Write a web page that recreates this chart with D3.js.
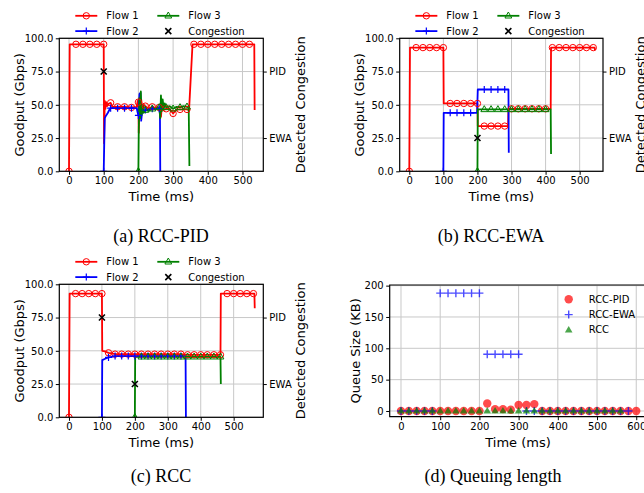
<!DOCTYPE html>
<html>
<head>
<meta charset="utf-8">
<script src="https://cdn.jsdelivr.net/npm/d3@7"></script>
<style>
body { margin: 0; background: #fff; }
svg text { font-family: "DejaVu Sans", sans-serif; fill: #000; }
.caption { font-family: "Liberation Serif", "Times New Roman", serif; font-size: 18px; }
</style>
</head>
<body>
<svg id="chart" width="644" height="493"></svg>
<script>
// goodput series, [time ms, Gbps]
var pidFlow1 = [[0,0],[2,95.5],[20,95.5],[40,95.5],[60,95.5],[80,95.5],[100,95.5],[101,21],[103,53],[105,47],[107,52],[110,49],[115,51],[120,51.5],[125,48.5],[140,48.5],[160,48.5],[180,48],[195,48.5],[198,53],[200,52],[201,29],[203,55],[205,44],[208,54],[212,46],[216,50],[220,49],[230,47],[240,48.5],[250,47.5],[260,48],[263,45],[265,41],[268,50],[272,46],[280,47],[290,47],[300,43.5],[310,46.5],[320,46.5],[340,46.5],[346,46],[356,95.5],[360,95.5],[380,95.5],[400,95.5],[420,95.5],[440,95.5],[460,95.5],[480,95.5],[500,95.5],[520,95.5],[534,95.5],[535,46]];
var pidFlow2 = [[100,0],[103,40],[107,42],[112,44],[118,47],[120,47.5],[125,47.5],[140,47.5],[160,47.5],[180,47.5],[195,47.5],[198,44],[200,42],[203,58],[206,59],[208,38],[211,45],[215,46],[220,46],[240,47],[260,47],[262,47],[263,0]];
var pidFlow3 = [[200,0],[201,30],[203,55],[205,40],[207,60],[209,42],[212,50],[215,44],[220,46],[230,45.5],[240,47],[250,47],[260,48],[263,40],[265,57],[267,45],[270,54],[273,47],[276,51],[280,48],[290,49],[300,47],[310,48.5],[320,48],[330,49],[340,48.5],[345,48],[347,4]];

var ewaFlow1 = [[0,0],[2,93],[20,93],[40,93],[60,93],[80,93],[100,93],[101,51],[120,51],[140,51],[160,51],[180,51],[200,51],[201,34],[220,34],[240,34],[260,34],[280,34],[290,34],[291,47],[300,47],[320,47],[340,47],[360,47],[380,47],[400,47],[415,47],[416,93],[420,93],[440,93],[460,93],[480,93],[500,93],[520,93],[540,93],[544,93],[545,91]];
var ewaFlow2 = [[100,0],[101,44],[120,44],[140,44],[160,44],[180,44],[199,44],[201,61.5],[220,61.5],[240,61.5],[260,61.5],[280,61.5],[291,61.5],[292,14]];
var ewaFlow3 = [[200,0],[201,46.5],[220,46.5],[240,46.5],[260,46.5],[280,46.5],[300,46.5],[320,46.5],[340,46.5],[360,46.5],[380,46.5],[400,46.5],[415,46.5],[416,13]];

var rccFlow1 = [[0,0],[2,93],[20,93],[40,93],[60,93],[80,93],[100,93],[101,50],[110,49.5],[120,48.5],[130,48],[140,47.5],[160,47.5],[180,47.5],[200,47.5],[220,47.5],[240,47.5],[260,47.5],[280,47.5],[300,47.5],[320,47.5],[340,47.5],[360,47],[380,47],[400,47],[420,47],[440,47],[460,47],[461,93],[480,93],[500,93],[520,93],[540,93],[560,93],[563,93],[564,82]];
var rccFlow2 = [[100,0],[101,43],[110,44],[120,45],[130,45.5],[140,46],[160,46],[180,46],[200,46],[220,46],[240,46],[260,46],[280,46],[300,46],[320,46],[340,46],[354,46],[355,0]];
var rccFlow3 = [[200,0],[201,45.5],[220,45.5],[240,45.5],[260,45.5],[280,45.5],[300,45.5],[320,45.5],[340,45.5],[360,45.5],[380,45.5],[400,45.5],[420,45.5],[440,45.5],[460,45.5],[461,25]];

// detected congestion, [time ms, level]
var pidCongestion = [[100,75]];
var ewaCongestion = [[200,25]];
var rccCongestion = [[100,75],[200,25]];

var goodputTicks = [0,25,50,75,100];
var timeTicks = [0,100,200,300,400,500];
var congestionTicks = [[75,"PID"],[25,"EWA"]];
var flowNames = ["Flow 1","Flow 2","Flow 3","Congestion"];

// queue size (KB) sampled every 20 ms
var queueTime = [0,20,40,60,80,100,120,140,160,180,200,220,240,260,280,300,320,340,360,380,400,420,440,460,480,500,520,540,560,580,600];
var queuePid = [0,0,0,0,0,0,0,0,0,0,0,12,3,3,2,9.6,9.6,11,0,0,0,0,0,0,0,0,0,0,0,0,0];
var queueEwa = [0,0,0,0,0,188,188,188,188,188,188,90.5,90.5,90.5,90.5,90.5,0,0,0,0,0,0,0,0,0,0,0,0,0,0];
var queueRcc = [0,0,0,0,0,0,0,0,0,0,0,0,0,0,0,0,0,0,0,0,0,0,0,0,0,0,0,0,0];
var queueTicksY = [0,50,100,150,200];
var queueTicksX = [0,100,200,300,400,500,600];

var svg = d3.select("#chart");
var colors = ["#ff0000", "#0000ff", "#008000"];
var markers = ["circle", "plus", "triangle"];
var clipId = 0;

function draw_marker(g, kind, x, y, color) {
	if (kind == "circle") {
		g.append("circle").attr("cx", x).attr("cy", y).attr("r", 3.2)
			.style("fill", "none").style("stroke", color).style("stroke-width", 1);
	} else if (kind == "plus") {
		g.append("path").attr("d", "M"+(x-3.5)+","+y+"h7M"+x+","+(y-3.5)+"v7")
			.style("stroke", color).style("stroke-width", 1.2);
	} else if (kind == "triangle") {
		g.append("path").attr("d", "M"+x+","+(y-3.8)+"L"+(x+3.4)+","+(y+2.2)+"L"+(x-3.4)+","+(y+2.2)+"Z")
			.style("fill", "none").style("stroke", color).style("stroke-width", 1);
	} else if (kind == "x") {
		g.append("path").attr("d", "M"+(x-3)+","+(y-3)+"l6,6M"+(x+3)+","+(y-3)+"l-6,6")
			.style("stroke", "#000").style("stroke-width", 1.6);
	}
}

function frame(g, left, top, right, bottom) {
	g.append("rect").attr("x", left).attr("y", top).attr("width", right-left).attr("height", bottom-top)
		.style("fill", "none").style("stroke", "#000").style("stroke-width", 1.2);
}

function draw_goodput(p) {
	var g = svg.append("g");
	var x = d3.scaleLinear().domain(p.xdom).range([p.left, p.right]);
	var y = d3.scaleLinear().domain([0, 100]).range([p.bottom, p.top]);

	// grid
	g.selectAll(".gx").data(timeTicks).enter().append("line")
		.attr("x1", d => x(d)).attr("x2", d => x(d)).attr("y1", p.top).attr("y2", p.bottom)
		.style("stroke", "#c8c8c8").style("stroke-width", 1);
	g.selectAll(".gy").data(goodputTicks).enter().append("line")
		.attr("x1", p.left).attr("x2", p.right).attr("y1", d => y(d)).attr("y2", d => y(d))
		.style("stroke", "#c8c8c8").style("stroke-width", 1);

	// axes
	var ax = g.append("g").attr("transform", "translate(0,"+p.bottom+")")
		.call(d3.axisBottom(x).tickValues(timeTicks).tickSize(3.5).tickPadding(2.5));
	var ay = g.append("g").attr("transform", "translate("+p.left+",0)")
		.call(d3.axisLeft(y).tickValues(goodputTicks).tickFormat(d3.format(".1f")).tickSize(3.5).tickPadding(2.5));
	var ar = g.append("g").attr("transform", "translate("+p.right+",0)")
		.call(d3.axisRight(y).tickValues(congestionTicks.map(d => d[0]))
			.tickFormat(d => congestionTicks.find(c => c[0] == d)[1]).tickSize(3.5).tickPadding(2.5));
	[ax, ay, ar].forEach(function(a) {
		a.select(".domain").remove();
		a.selectAll("text").style("font-size", "10px").style("font-family", "DejaVu Sans");
		a.selectAll("line").style("stroke-width", 1);
	});

	// series
	clipId++;
	g.append("clipPath").attr("id", "clip"+clipId).append("rect")
		.attr("x", p.left).attr("y", p.top).attr("width", p.right-p.left).attr("height", p.bottom-p.top);
	var plot = g.append("g").attr("clip-path", "url(#clip"+clipId+")");
	var line = d3.line().x(d => x(d[0])).y(d => y(d[1]));
	p.flows.forEach(function(f, i) {
		plot.append("path").datum(f).attr("d", line)
			.style("fill", "none").style("stroke", colors[i]).style("stroke-width", 1.8).style("stroke-linejoin", "round");
	});
	p.flows.forEach(function(f, i) {
		f.filter(d => d[0] % 20 == 0).forEach(function(d) {
			draw_marker(plot, markers[i], x(d[0]), y(d[1]), colors[i]);
		});
	});
	p.congestion.forEach(function(d) {
		draw_marker(g, "x", x(d[0]), y(d[1]));
	});

	frame(g, p.left, p.top, p.right, p.bottom);

	// labels
	g.append("text").attr("transform", "translate("+(p.left-40)+","+((p.top+p.bottom)/2)+") rotate(-90)")
		.attr("text-anchor", "middle").attr("dy", "0.35em").style("font-size", "13px").text("Goodput (Gbps)");
	g.append("text").attr("transform", "translate("+(p.right+37)+","+((p.top+p.bottom)/2)+") rotate(-90)")
		.attr("text-anchor", "middle").attr("dy", "0.35em").style("font-size", "13px").text("Detected Congestion");
	g.append("text").attr("x", (p.left+p.right)/2).attr("y", p.bottom+30)
		.attr("text-anchor", "middle").style("font-size", "13px").text("Time (ms)");

	// legend
	var lx = (p.left+p.right)/2 - 86;
	var cols = [[0,0],[0,1],[1,0],[1,1]]; // Flow1, Flow2 in column 0; Flow3, Congestion in column 1
	flowNames.forEach(function(name, i) {
		var c = cols[i], hx = lx + c[0]*82, hy = p.top - 22.5 + c[1]*15.3;
		if (i < 3) {
			g.append("line").attr("x1", hx).attr("x2", hx+22).attr("y1", hy).attr("y2", hy)
				.style("stroke", colors[i]).style("stroke-width", 1.8);
			draw_marker(g, markers[i], hx+11, hy, colors[i]);
		} else {
			draw_marker(g, "x", hx+11, hy);
		}
		g.append("text").attr("x", hx+31).attr("y", hy).attr("dy", "0.35em").style("font-size", "10px").text(name);
	});

	svg.append("text").attr("class", "caption").attr("x", p.caption_x).attr("y", p.caption_y)
		.attr("text-anchor", "middle").text(p.caption);
}

draw_goodput({left: 59.3, right: 263.3, top: 38.3, bottom: 171.3, xdom: [-28, 560],
	flows: [pidFlow1, pidFlow2, pidFlow3], congestion: pidCongestion, caption: "(a) RCC-PID", caption_x: 161, caption_y: 242});
draw_goodput({left: 399.7, right: 603, top: 38.3, bottom: 171.3, xdom: [-28.2, 568.5],
	flows: [ewaFlow1, ewaFlow2, ewaFlow3], congestion: ewaCongestion, caption: "(b) RCC-EWA", caption_x: 491, caption_y: 242});
draw_goodput({left: 59.3, right: 263.3, top: 284.3, bottom: 417.3, xdom: [-29.4, 590],
	flows: [rccFlow1, rccFlow2, rccFlow3], congestion: rccCongestion, caption: "(c) RCC", caption_x: 161, caption_y: 482});

// queue length panel
(function() {
	var p = {left: 389.7, right: 648, top: 285, bottom: 416.7};
	var g = svg.append("g");
	var x = d3.scaleLinear().domain([-28.8, 630]).range([p.left, p.right]);
	var y = d3.scaleLinear().domain([-9.1, 201]).range([p.bottom, p.top]);

	g.selectAll(".gx").data(queueTicksX).enter().append("line")
		.attr("x1", d => x(d)).attr("x2", d => x(d)).attr("y1", p.top).attr("y2", p.bottom)
		.style("stroke", "#c8c8c8").style("stroke-width", 1);
	g.selectAll(".gy").data(queueTicksY).enter().append("line")
		.attr("x1", p.left).attr("x2", p.right).attr("y1", d => y(d)).attr("y2", d => y(d))
		.style("stroke", "#c8c8c8").style("stroke-width", 1);

	var ax = g.append("g").attr("transform", "translate(0,"+p.bottom+")")
		.call(d3.axisBottom(x).tickValues(queueTicksX).tickSize(3.5).tickPadding(2.5));
	var ay = g.append("g").attr("transform", "translate("+p.left+",0)")
		.call(d3.axisLeft(y).tickValues(queueTicksY).tickSize(3.5).tickPadding(2.5));
	[ax, ay].forEach(function(a) {
		a.select(".domain").remove();
		a.selectAll("text").style("font-size", "10px").style("font-family", "DejaVu Sans");
		a.selectAll("line").style("stroke-width", 1);
	});

	var pts = g.append("g");
	queuePid.forEach(function(v, i) {
		pts.append("circle").attr("cx", x(queueTime[i])).attr("cy", y(v)).attr("r", 4.2)
			.style("fill", "#ff0000").style("fill-opacity", 0.7);
	});
	queueEwa.forEach(function(v, i) {
		var cx = x(queueTime[i]), cy = y(v);
		pts.append("path").attr("d", "M"+(cx-4)+","+cy+"h8M"+cx+","+(cy-4)+"v8")
			.style("stroke", "#0000ff").style("stroke-opacity", 0.7).style("stroke-width", 1.4);
	});
	queueRcc.forEach(function(v, i) {
		var cx = x(queueTime[i]), cy = y(v);
		pts.append("path").attr("d", "M"+cx+","+(cy-4)+"L"+(cx+3.8)+","+(cy+2.6)+"L"+(cx-3.8)+","+(cy+2.6)+"Z")
			.style("fill", "#008000").style("fill-opacity", 0.7);
	});

	g.append("path").attr("d", "M"+p.right+","+p.top+"H"+p.left+"V"+p.bottom+"H"+p.right)
		.style("fill", "none").style("stroke", "#000").style("stroke-width", 1.2);

	// legend
	var names = ["RCC-PID", "RCC-EWA", "RCC"];
	names.forEach(function(name, i) {
		var mx = 568.7, my = 299.3 + i*15.3;
		if (i == 0) {
			g.append("circle").attr("cx", mx).attr("cy", my).attr("r", 4.2).style("fill", "#ff0000").style("fill-opacity", 0.7);
		} else if (i == 1) {
			g.append("path").attr("d", "M"+(mx-4)+","+my+"h8M"+mx+","+(my-4)+"v8")
				.style("stroke", "#0000ff").style("stroke-opacity", 0.7).style("stroke-width", 1.4);
		} else {
			g.append("path").attr("d", "M"+mx+","+(my-4)+"L"+(mx+3.8)+","+(my+2.6)+"L"+(mx-3.8)+","+(my+2.6)+"Z")
				.style("fill", "#008000").style("fill-opacity", 0.7);
		}
		g.append("text").attr("x", 588.7).attr("y", my).attr("dy", "0.35em").style("font-size", "10px").text(name);
	});

	g.append("text").attr("transform", "translate("+(p.left-34)+","+((p.top+p.bottom)/2)+") rotate(-90)")
		.attr("text-anchor", "middle").attr("dy", "0.35em").style("font-size", "13px").text("Queue Size (KB)");
	g.append("text").attr("x", 518).attr("y", p.bottom+30)
		.attr("text-anchor", "middle").style("font-size", "13px").text("Time (ms)");

	svg.append("text").attr("class", "caption").attr("x", 493).attr("y", 482)
		.attr("text-anchor", "middle").text("(d) Queuing length");
})();
</script>
</body>
</html>
